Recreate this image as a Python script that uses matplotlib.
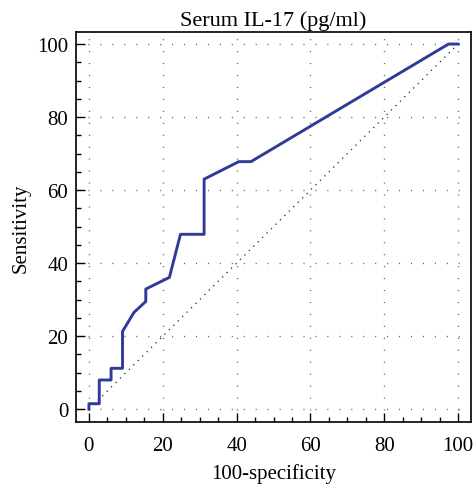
import matplotlib
matplotlib.use("Agg")
import matplotlib.pyplot as plt
from matplotlib.ticker import MultipleLocator

# ROC curve points
spec_100 = [0, 0, 2.8, 2.8, 6.0, 6.0, 9.1, 9.1, 12.2, 15.4, 15.4, 21.8, 24.8, 31.2, 31.2, 40.6, 43.9, 97.4, 100]
sens = [0, 1.5, 1.5, 8.0, 8.0, 11.2, 11.2, 21.3, 26.5, 29.5, 32.9, 36.1, 47.9, 47.9, 63.0, 67.8, 67.8, 100, 100]
ticks = [0, 20, 40, 60, 80, 100]

plt.rcParams['font.family'] = ['Liberation Serif', 'DejaVu Serif']

fig = plt.figure(figsize=(4.75, 4.89), dpi=100)
ax = fig.add_axes([0.16, 0.135, 0.8316, 0.7975])

# grid
for t in ticks:
    ax.axhline(t, color='#666666', lw=1.0, dashes=(0.8, 7.8), zorder=0)
    ax.axvline(t, color='#666666', lw=1.0, dashes=(0.8, 7.8), zorder=0)

# reference diagonal
ax.plot([0, 100], [0, 100], color='#222222', lw=0.9, dashes=(1, 4), zorder=1)

ax.plot(spec_100, sens, color='#2f3b97', lw=2.1, zorder=2)

ax.set_xlim(-3.5, 103.5)
ax.set_ylim(-3.5, 103.3)
ax.set_xticks(ticks)
ax.set_yticks(ticks)
ax.xaxis.set_minor_locator(MultipleLocator(5))
ax.yaxis.set_minor_locator(MultipleLocator(5))
ax.tick_params(which='major', direction='in', length=6.5, width=1.0, labelsize=15)
ax.tick_params(axis='x', which='major', pad=10)
ax.tick_params(axis='y', which='major', pad=5.5)
ax.tick_params(which='minor', direction='in', length=3.6, width=1.0)

for s in ax.spines.values():
    s.set_linewidth(1.2)

ax.set_title('Serum IL-17 (pg/ml)', fontsize=16, pad=5)
ax.set_xlabel('100-specificity', fontsize=15, labelpad=6)
ax.set_ylabel('Sensitivity', fontsize=15, labelpad=5)

fig.savefig('out.png', dpi=100)
